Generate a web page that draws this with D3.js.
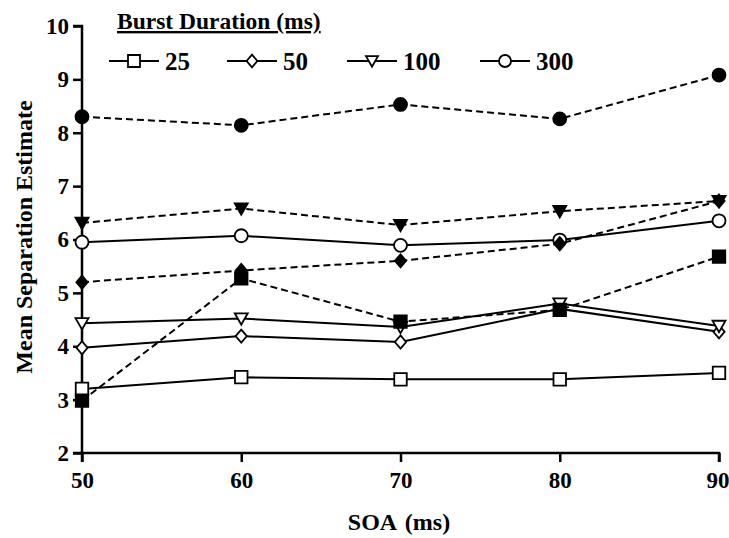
<!DOCTYPE html>
<html><head><meta charset="utf-8">
<script src="https://cdn.jsdelivr.net/npm/d3@7"></script>
<style>body{margin:0;background:#fff}svg{display:block}text{font-family:"Liberation Serif","Times New Roman",serif;font-weight:bold;fill:#000}</style>
</head><body><svg id="c" width="729" height="538"></svg>
<script>
const soa = [50, 60, 70, 80, 90];
const durations = ["25", "50", "100", "300"];
const yTicks = [2, 3, 4, 5, 6, 7, 8, 9, 10];
// solid lines with open markers
const open25  = [3.20, 3.42, 3.38, 3.38, 3.50];
const open50  = [3.97, 4.19, 4.08, 4.70, 4.27];
const open100 = [4.43, 4.52, 4.36, 4.80, 4.38];
const open300 = [5.95, 6.07, 5.89, 5.99, 6.35];
// dashed lines with filled markers
const fill25  = [2.98, 5.27, 4.46, 4.68, 5.68];
const fill50  = [5.20, 5.42, 5.60, 5.92, 6.72];
const fill100 = [6.31, 6.58, 6.27, 6.53, 6.72];
const fill300 = [8.30, 8.14, 8.53, 8.26, 9.08];

const series = [
  {vals: open25, shape: "square", filled: false},
  {vals: open50, shape: "diamond", filled: false},
  {vals: open100, shape: "tri", filled: false},
  {vals: open300, shape: "circle", filled: false},
  {vals: fill25, shape: "square", filled: true},
  {vals: fill50, shape: "diamond", filled: true},
  {vals: fill100, shape: "tri", filled: true},
  {vals: fill300, shape: "circle", filled: true}
];

const svg = d3.select("#c");
const x = d3.scaleLinear().domain([50, 90]).range([82, 719]);
const y = d3.scaleLinear().domain([2, 10]).range([453, 26]);

function shapePath(shape, s) {
  const h = s / 2;
  if (shape === "square") return `M${-h},${-h}H${h}V${h}H${-h}Z`;
  if (shape === "diamond") return `M0,${-h*1.05}L${h*0.9},0L0,${h*1.05}L${-h*0.9},0Z`;
  return `M${-h},${-h*0.8}H${h}L0,${h*0.95}Z`;
}
function drawMarker(g, shape, filled, cx, cy, s) {
  if (shape === "circle") {
    g.append("circle").attr("cx", cx).attr("cy", cy).attr("r", s / 2)
      .attr("fill", filled ? "#000" : "#fff").attr("stroke", "#000").attr("stroke-width", 1.8);
  } else {
    g.append("path").attr("d", shapePath(shape, s)).attr("transform", `translate(${cx},${cy})`)
      .attr("fill", filled ? "#000" : "#fff").attr("stroke", "#000").attr("stroke-width", 1.8)
      .attr("stroke-linejoin", "miter");
  }
}

// axes
const yAxis = d3.axisLeft(y).tickValues(yTicks).tickSize(9).tickPadding(4).tickFormat(d3.format("d"));
const xAxis = d3.axisBottom(x).tickValues(soa).tickSize(9).tickPadding(10).tickFormat(d3.format("d"));
const gy = svg.append("g").attr("transform", "translate(82,0)").call(yAxis);
const gx = svg.append("g").attr("transform", "translate(0,453)").call(xAxis);
[gx, gy].forEach(g => {
  g.select(".domain").attr("stroke-width", 2.5);
  g.selectAll(".tick line").attr("stroke-width", 2.5);
  g.selectAll("text").style("font-family", '"Liberation Serif",serif').style("font-weight", "bold").style("font-size", "23px");
});
gx.selectAll(".tick text").filter(d => d === 90).attr("text-anchor", "end").attr("x", 10);
gy.select(".domain").attr("d", `M-9,${y(10)}H0V${y(2)}H-9`);
gx.select(".domain").attr("d", `M${x(50)},9V0H${x(90)}V9`);

// lines
const line = d3.line().x((d, i) => x(soa[i])).y(d => y(d));
const gl = svg.append("g");
series.forEach(s => {
  gl.append("path").attr("d", line(s.vals)).attr("fill", "none").attr("stroke", "#000")
    .attr("stroke-width", 2).attr("stroke-dasharray", s.filled ? "7,4" : null);
});
// markers
const gm = svg.append("g");
series.forEach(s => {
  s.vals.forEach((v, i) => {
    const sz = s.shape === "circle" ? 13 : s.shape === "tri" ? 13 : 12.5;
    drawMarker(gm, s.shape, s.filled, x(soa[i]), y(v), sz);
  });
});

// legend
const lg = svg.append("g");
lg.append("text").attr("x", 117).attr("y", 29).style("font-size", "23.5px")
  .style("text-decoration", "underline").text("Burst Duration (ms)");
const legX = [109, 227, 347, 480];
const shapes = ["square", "diamond", "tri", "circle"];
durations.forEach((d, i) => {
  const lx = legX[i], ly = 61;
  lg.append("line").attr("x1", lx).attr("x2", lx + 50).attr("y1", ly).attr("y2", ly)
    .attr("stroke", "#000").attr("stroke-width", 2);
  drawMarker(lg, shapes[i], false, lx + 25, ly, 12);
  lg.append("text").attr("x", lx + 56).attr("y", ly + 9).style("font-size", "25px").text(d);
});

// axis titles
svg.append("text").attr("x", 399).attr("y", 530).attr("text-anchor", "middle").style("font-size", "24px")
  .style("word-spacing", "3px").text("SOA (ms)");
svg.append("text").attr("transform", "translate(32,237) rotate(-90)").attr("text-anchor", "middle")
  .style("font-size", "24px").text("Mean Separation Estimate");
</script></body></html>
